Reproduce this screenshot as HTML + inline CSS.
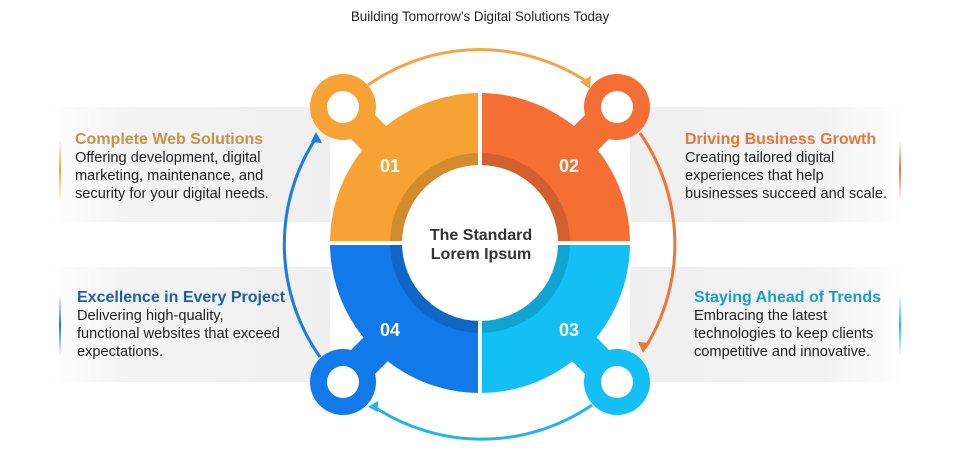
<!DOCTYPE html>
<html><head><style>
body{margin:0;width:960px;height:460px;background:#fff;overflow:hidden;font-family:"Liberation Sans",sans-serif;position:relative}
.t{position:absolute;font-size:14.6px;line-height:18px;color:#222}
.t b{display:block;font-size:16px;line-height:18px}
</style></head><body>
<svg width="960" height="460" style="position:absolute;left:0;top:0">
<defs>
<linearGradient id="gl" x1="0" x2="1"><stop offset="0" stop-color="#f3f3f3" stop-opacity="0"/><stop offset="0.3" stop-color="#f3f3f3"/><stop offset="1" stop-color="#efefef"/></linearGradient>
<linearGradient id="gr" x1="1" x2="0"><stop offset="0" stop-color="#f3f3f3" stop-opacity="0"/><stop offset="0.3" stop-color="#f3f3f3"/><stop offset="1" stop-color="#efefef"/></linearGradient>
<linearGradient id="ao" x1="0" y1="0" x2="0" y2="1"><stop offset="0" stop-color="#f7a234" stop-opacity="0"/><stop offset=".5" stop-color="#f7a234"/><stop offset="1" stop-color="#f7a234" stop-opacity="0"/></linearGradient>
<linearGradient id="ab" x1="0" y1="0" x2="0" y2="1"><stop offset="0" stop-color="#1179e8" stop-opacity="0"/><stop offset=".5" stop-color="#1179e8"/><stop offset="1" stop-color="#1179e8" stop-opacity="0"/></linearGradient>
<linearGradient id="ar" x1="0" y1="0" x2="0" y2="1"><stop offset="0" stop-color="#f56f35" stop-opacity="0"/><stop offset=".5" stop-color="#f56f35"/><stop offset="1" stop-color="#f56f35" stop-opacity="0"/></linearGradient>
<linearGradient id="ac" x1="0" y1="0" x2="0" y2="1"><stop offset="0" stop-color="#13bff5" stop-opacity="0"/><stop offset=".5" stop-color="#13bff5"/><stop offset="1" stop-color="#13bff5" stop-opacity="0"/></linearGradient>
</defs>
<rect x="45" y="107" width="285" height="115" fill="url(#gl)"/>
<rect x="45" y="267" width="285" height="115" fill="url(#gl)"/>
<rect x="630" y="107" width="280" height="115" fill="url(#gr)"/>
<rect x="630" y="267" width="280" height="115" fill="url(#gr)"/>
<rect x="59" y="140" width="2" height="60" fill="url(#ao)"/>
<rect x="59" y="295" width="2" height="60" fill="url(#ab)"/>
<rect x="899" y="140" width="2" height="60" fill="url(#ar)"/>
<rect x="899" y="295" width="2" height="60" fill="url(#ac)"/>
<g stroke-linecap="round">
<line x1="343" y1="107" x2="395" y2="159" stroke="#f7a234" stroke-width="34"/>
<line x1="617" y1="107" x2="565" y2="159" stroke="#f56f35" stroke-width="34"/>
<line x1="617" y1="382" x2="565" y2="330" stroke="#13bff5" stroke-width="34"/>
<line x1="343" y1="382" x2="395" y2="330" stroke="#1179e8" stroke-width="34"/>
</g>
<circle cx="343" cy="107" r="33" fill="#f7a234"/><circle cx="343" cy="107" r="16" fill="#fff"/>
<circle cx="617" cy="107" r="33" fill="#f56f35"/><circle cx="617" cy="107" r="16" fill="#fff"/>
<circle cx="617" cy="382" r="33" fill="#13bff5"/><circle cx="617" cy="382" r="16" fill="#fff"/>
<circle cx="343" cy="382" r="33" fill="#1179e8"/><circle cx="343" cy="382" r="16" fill="#fff"/>
<path d="M480 243 L330 243 A150 150 0 0 1 480 93Z" fill="#f7a234"/>
<path d="M480 243 L480 93 A150 150 0 0 1 630 243Z" fill="#f56f35"/>
<path d="M480 243 L630 243 A150 150 0 0 1 480 393Z" fill="#13bff5"/>
<path d="M480 243 L480 393 A150 150 0 0 1 330 243Z" fill="#1179e8"/>
<circle cx="480" cy="243" r="90" fill="#000" opacity="0.14"/>
<line x1="480" y1="90" x2="480" y2="396" stroke="#fff" stroke-width="4"/>
<line x1="327" y1="243" x2="633" y2="243" stroke="#fff" stroke-width="4"/>
<circle cx="480" cy="243" r="78" fill="#fff"/>
<g fill="none" stroke-width="3">
<path d="M368 85 A195 195 0 0 1 586 81" stroke="#f2a642"/>
<path d="M640 133 A195 195 0 0 1 645 348" stroke="#f0743a"/>
<path d="M592 405 A195 195 0 0 1 373 406" stroke="#22b5ea"/>
<path d="M320 357 A195 195 0 0 1 316 138" stroke="#1a7de6"/>
</g>
<polygon points="591,76 590,89 580,82" fill="#f2a642"/>
<polygon points="650,343 643,353 638,342" fill="#f0743a"/>
<polygon points="368,407 378,401 378,412" fill="#22b5ea"/>
<polygon points="316,132 322,143 311,142" fill="#1a7de6"/>
<g font-family="Liberation Sans" font-weight="bold" font-size="18" fill="#fff" text-anchor="middle">
<text x="390" y="172">01</text><text x="569" y="172">02</text><text x="569" y="336">03</text><text x="390" y="336">04</text>
</g>
<g font-family="Liberation Sans" font-weight="bold" font-size="16" fill="#333" text-anchor="middle">
<text x="481" y="240">The Standard</text><text x="481" y="259">Lorem Ipsum</text>
</g>
<text x="480" y="21" font-family="Liberation Sans" font-size="13.4" fill="#222" text-anchor="middle">Building Tomorrow’s Digital Solutions Today</text>
</svg>
<div class="t" style="left:75px;top:131px"><b style="color:#c8924a">Complete Web Solutions</b>Offering development, digital<br>marketing, maintenance, and<br>security for your digital needs.</div>
<div class="t" style="left:77px;top:289px"><b style="color:#1f5fa8">Excellence in Every Project</b>Delivering high-quality,<br>functional websites that exceed<br>expectations.</div>
<div class="t" style="left:685px;top:131px"><b style="color:#e8763a">Driving Business Growth</b>Creating tailored digital<br>experiences that help<br>businesses succeed and scale.</div>
<div class="t" style="left:694px;top:289px"><b style="color:#1aa0c8">Staying Ahead of Trends</b>Embracing the latest<br>technologies to keep clients<br>competitive and innovative.</div>
</body></html>
